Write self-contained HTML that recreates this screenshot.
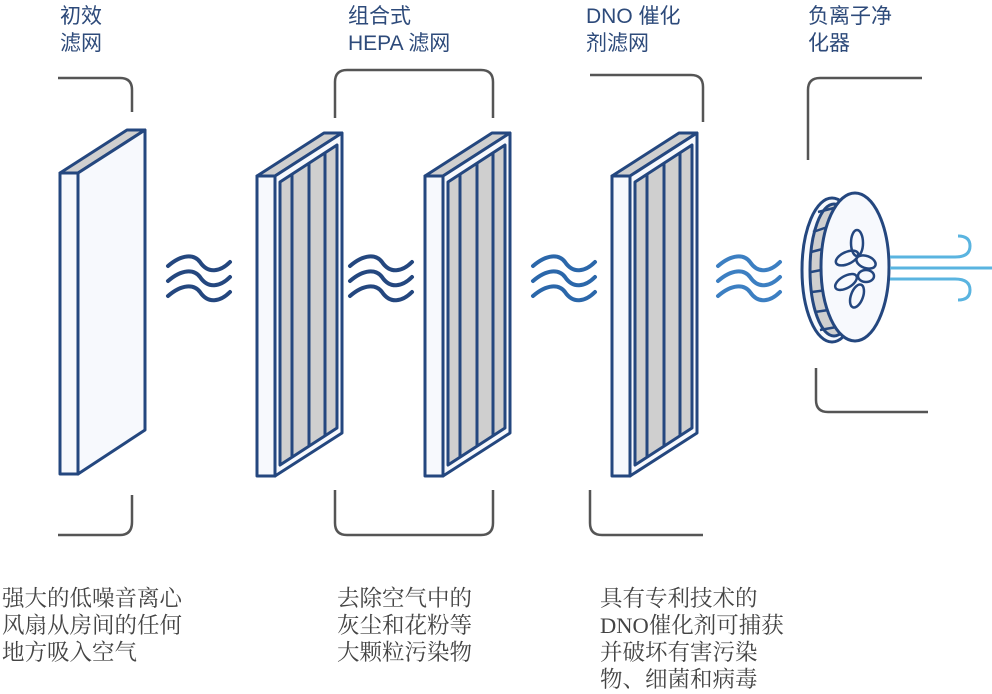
<!DOCTYPE html>
<html><head><meta charset="utf-8"><style>
html,body{margin:0;padding:0;background:#fff;}
svg{display:block}
.t{font-family:"Liberation Sans","Noto Sans CJK SC",sans-serif;font-size:21px;fill:#2d4a7a}
.b{font-family:"Liberation Serif","Noto Serif CJK SC",serif;font-size:22.5px;fill:#444}
</style></head><body>
<svg width="992" height="694" viewBox="0 0 992 694" xmlns="http://www.w3.org/2000/svg">
<defs>
<g id="hepa" stroke="#24477f" stroke-width="3" stroke-linejoin="round">
  <polygon points="0,0 18,0 85,-43 67,-43" fill="#cfcfcf"/>
  <polygon points="18,0 85,-43 85,257 18,300" fill="#f7f9fd"/>
  <rect x="0" y="0" width="18" height="300" fill="#f7f9fd"/>
  <polygon points="23,6 80,-31 80,252 23,289" fill="#cfcfcf"/>
  <line x1="35" y1="-2" x2="35" y2="281"/>
  <line x1="52" y1="-13" x2="52" y2="270"/>
  <line x1="68" y1="-23" x2="68" y2="260"/>
</g>
<g id="wave" fill="none" stroke-width="4" stroke-linecap="round">
  <path d="M0,8 C14,-4 26,-4 32,4 C40,16 52,14 62,4"/>
  <path d="M0,23 C14,11 26,11 32,19 C40,31 52,29 62,19"/>
  <path d="M0,38 C14,26 26,26 32,34 C40,46 52,44 62,34"/>
</g>
</defs>
<g fill="none" stroke="#555" stroke-width="2.5">
<path d="M58,78 H120 Q132,78 132,90 V112"/>
<path d="M132,495 V522 Q132,535 120,535 H58"/>
<path d="M335,118 V82 Q335,70 347,70 H481 Q493,70 493,82 V118"/>
<path d="M335,490 V523 Q335,535 347,535 H481 Q493,535 493,523 V490"/>
<path d="M590,75 H691 Q703,75 703,87 V122"/>
<path d="M590,490 V523 Q590,535 602,535 H703"/>
<path d="M808,160 V90 Q808,78 820,78 H922"/>
<path d="M816,368 V400 Q816,412 828,412 H928"/>
</g>
<g stroke="#24477f" stroke-width="3" stroke-linejoin="round">
  <polygon points="60,173 78,173 145,130 127,130" fill="#cfcfcf"/>
  <polygon points="78,173 145,130 145,430 78,474" fill="#f7f9fd"/>
  <rect x="60" y="173" width="18" height="301" fill="#f7f9fd"/>
</g>
<use href="#hepa" x="257" y="176"/>
<use href="#hepa" x="425" y="176"/>
<use href="#hepa" x="612" y="176"/>
<use href="#wave" x="168" y="258" stroke="#24477f"/>
<use href="#wave" x="350" y="258" stroke="#24477f"/>
<use href="#wave" x="533" y="258" stroke="#2b67aa"/>
<use href="#wave" x="718" y="258" stroke="#3c7fc2"/>
<g stroke="#24477f" stroke-width="3">
  <ellipse cx="832" cy="270" rx="30" ry="72" fill="#f7f9fd"/>
  <ellipse cx="834" cy="270" rx="24" ry="66" fill="#cfcfcf"/>
  <path d="M818,212 L842,206 M813,232 L842,222 M811,252 L842,244 M811,272 L842,266 M812,292 L842,288 M815,312 L842,308 M820,330 L842,326" stroke-width="2.5"/>
  <ellipse cx="855" cy="267" rx="34" ry="74" fill="#f7f9fd"/>
  <g fill="none" stroke-width="2.5">
   <ellipse cx="857" cy="243" rx="6" ry="13"/>
   <ellipse cx="847" cy="258" rx="12" ry="6" transform="rotate(-25 847 258)"/>
   <ellipse cx="866" cy="262" rx="10" ry="6" transform="rotate(20 866 262)"/>
   <ellipse cx="846" cy="282" rx="12" ry="6" transform="rotate(-30 846 282)"/>
   <ellipse cx="866" cy="276" rx="8" ry="6"/>
   <ellipse cx="857" cy="296" rx="6" ry="12" transform="rotate(20 857 296)"/>
  </g>
</g>
<g fill="none" stroke="#5ab4e0" stroke-width="3">
  <path d="M890,257 H955 Q970,257 970,246 Q970,236 958,236"/>
  <line x1="890" y1="268" x2="992" y2="268"/>
  <path d="M890,279 H955 Q970,279 970,290 Q970,300 958,300"/>
</g>
<text class="t" x="60" y="23">初效</text>
<text class="t" x="60" y="50">滤网</text>
<text class="t" x="348" y="23">组合式</text>
<text class="t" x="348" y="50">HEPA 滤网</text>
<text class="t" x="586" y="23">DNO 催化</text>
<text class="t" x="586" y="50">剂滤网</text>
<text class="t" x="808" y="23">负离子净</text>
<text class="t" x="808" y="50">化器</text>
<text class="b" x="2" y="606">强大的低噪音离心</text>
<text class="b" x="2" y="633">风扇从房间的任何</text>
<text class="b" x="2" y="660">地方吸入空气</text>
<text class="b" x="337" y="606">去除空气中的</text>
<text class="b" x="337" y="633">灰尘和花粉等</text>
<text class="b" x="337" y="660">大颗粒污染物</text>
<text class="b" x="600" y="606">具有专利技术的</text>
<text class="b" x="600" y="633">DNO催化剂可捕获</text>
<text class="b" x="600" y="660">并破坏有害污染</text>
<text class="b" x="600" y="687">物、细菌和病毒</text>
</svg>
</body></html>
